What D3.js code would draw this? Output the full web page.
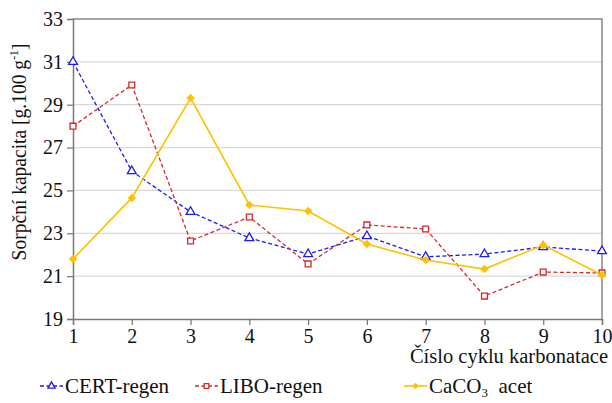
<!DOCTYPE html>
<html>
<head>
<meta charset="utf-8">
<script src="https://cdn.jsdelivr.net/npm/d3@7"></script>
<style>
  body { margin: 0; background: #fff; }
  text { font-family: "Liberation Serif", "DejaVu Serif", serif; fill: #111; }
</style>
</head>
<body>
<script>
const cycles = [1, 2, 3, 4, 5, 6, 7, 8, 9, 10];
const cert = [31.0, 25.9, 24.0, 22.78, 22.03, 22.87, 21.9, 22.03, 22.36, 22.17];
const libo = [28.0, 29.92, 22.64, 23.76, 21.57, 23.39, 23.2, 20.07, 21.19, 21.15];
const caco = [21.8, 24.65, 29.31, 24.32, 24.04, 22.5, 21.75, 21.33, 22.45, 21.05];
const yTicks = [19, 21, 23, 25, 27, 29, 31, 33];

const W = 612, H = 403;
const m = { left: 73, right: 10, top: 19, bottom: 84 };

const svg = d3.select("body").append("svg")
    .attr("width", W).attr("height", H);

const x = d3.scaleLinear().domain([1, 10]).range([m.left, W - m.right]);
const y = d3.scaleLinear().domain([19, 33]).range([H - m.bottom, m.top]);

// gridlines
svg.append("g").selectAll("line")
    .data(yTicks.filter(d => d > 19 && d < 33))
    .enter().append("line")
    .attr("x1", x(1)).attr("x2", x(10))
    .attr("y1", d => y(d)).attr("y2", d => y(d))
    .attr("stroke", "#d9d9d9").attr("stroke-width", 1.2);

// frame top/right
svg.append("path")
    .attr("d", `M${x(1)},${y(33)}H${x(10)}V${y(19)}`)
    .attr("fill", "none").attr("stroke", "#888").attr("stroke-width", 1.5);

const yAxis = svg.append("g")
    .attr("transform", `translate(${x(1)},0)`)
    .call(d3.axisLeft(y).tickValues(yTicks).tickSize(6).tickPadding(4));
const xAxis = svg.append("g")
    .attr("transform", `translate(0,${y(19)})`)
    .call(d3.axisBottom(x).tickValues(cycles).tickSize(6).tickPadding(4));

[yAxis, xAxis].forEach(a => {
    a.selectAll(".domain").attr("stroke", "#777").attr("stroke-width", 1.5);
    a.selectAll(".tick line").attr("stroke", "#777").attr("stroke-width", 1.2);
    a.selectAll(".tick text").style("font-size", "20px")
        .style("font-family", "'Liberation Serif', serif").attr("fill", "#111");
});

// axis titles - y label is squeezed along its length to fit like the original
const yl = svg.append("text")
    .attr("text-anchor", "middle")
    .style("font-size", "20px");
yl.append("tspan").text("Sorpční kapacita [g.100 g");
yl.append("tspan").text("-1").attr("dy", -8).style("font-size", "12px");
yl.append("tspan").text("]").attr("dy", 8);
const ylLen = yl.node().getComputedTextLength();
yl.attr("transform", `translate(26,152) rotate(-90) scale(${217 / ylLen},1)`);

svg.append("text")
    .attr("x", 608).attr("y", 363)
    .attr("text-anchor", "end")
    .style("font-size", "20.5px")
    .text("Číslo cyklu karbonatace");

const series = [
    { name: "CERT-regen", values: cert, color: "#1a1aff", dash: "4,2.5", sym: d3.symbolTriangle, width: 1.3 },
    { name: "LIBO-regen", values: libo, color: "#d42a2a", dash: "4,2.5", sym: d3.symbolSquare, width: 1.3 },
    { name: "CaCO3 acet", values: caco, color: "#ffc000", dash: null, sym: d3.symbolDiamond2, width: 1.6 }
];

const line = d3.line().x((d, i) => x(cycles[i])).y(d => y(d));

function marker(g, s, px, py, size) {
    const filled = s.sym === d3.symbolDiamond2;
    g.append("path")
        .attr("transform", `translate(${px},${py})`)
        .attr("d", d3.symbol().type(s.sym).size(size)())
        .attr("fill", filled ? s.color : "#fff")
        .attr("stroke", s.color)
        .attr("stroke-width", filled ? 0.5 : 1.3);
}

series.forEach(s => {
    svg.append("path")
        .datum(s.values)
        .attr("d", line)
        .attr("fill", "none")
        .attr("stroke", s.color)
        .attr("stroke-width", s.width)
        .attr("stroke-dasharray", s.dash);
    const g = svg.append("g");
    s.values.forEach((v, i) => marker(g, s, x(cycles[i]), y(v), s.sym === d3.symbolDiamond2 ? 40 : 34));
});

// legend
const legX = [40, 195, 404];
series.forEach((s, i) => {
    const g = svg.append("g").attr("transform", `translate(${legX[i]},393)`);
    g.append("line").attr("x1", 0).attr("x2", 23).attr("y1", -7).attr("y2", -7)
        .attr("stroke", s.color).attr("stroke-width", s.width)
        .attr("stroke-dasharray", s.dash);
    marker(g, s, 11.5, -7, s.sym === d3.symbolDiamond2 ? 24 : 22);
    const t = g.append("text").attr("x", 25).attr("y", 0).style("font-size", "21px");
    if (i === 2) {
        t.append("tspan").text("CaCO");
        t.append("tspan").text("3").attr("dy", 4).style("font-size", "13px");
        t.append("tspan").text("  acet").attr("dy", -4).attr("xml:space", "preserve");
    } else {
        t.text(s.name);
    }
});
</script>
</body>
</html>
